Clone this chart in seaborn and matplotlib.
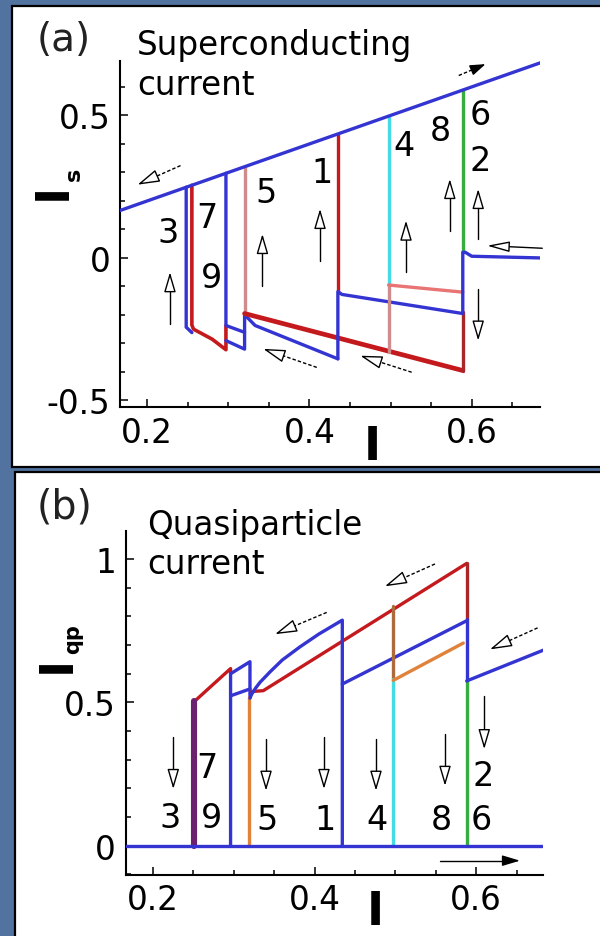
import numpy as np
import matplotlib
matplotlib.use("Agg")
import matplotlib.pyplot as plt
from matplotlib.patches import Rectangle
from matplotlib.ticker import MultipleLocator
import seaborn as sns

# ---------------------------------------------------------------- colours
BLUE = "#3434d2"
RED = "#c41a1e"
MAROON = "#a8282a"
ROSE = "#cf8c8c"
SALMON = "#e87474"
CYAN = "#44dbe3"
GREEN = "#36ad3e"
ORANGE = "#e0823a"
BROWN = "#ad6a3c"
PURPLE = "#6e2070"
SLIDE = "#52739f"

# ---------------------------------------------------------------- (a) superconducting current  Is(I)
sc_I = [0.166, 0.685]
sc_Is = [0.166, 0.685]

a3_I = [0.248, 0.248, 0.255]
a3_Is = [0.248, -0.243, -0.262]

a7_I = [0.255, 0.255, 0.257, 0.265, 0.280, 0.297, 0.297]
a7_Is = [0.255, -0.235, -0.250, -0.262, -0.285, -0.322, -0.237]

a9_I = [0.297, 0.297, 0.320]
a9_Is = [0.297, -0.237, -0.261]

a9low_I = [0.297, 0.320, 0.320, 0.322, 0.333, 0.435]
a9low_Is = [-0.290, -0.320, -0.196, -0.205, -0.237, -0.354]

a5_I = [0.320, 0.320]
a5_Is = [0.320, -0.196]

ared_I = [0.320, 0.589]
ared_Is = [-0.195, -0.395]

a1_I = [0.435, 0.435]
a1_Is = [0.435, -0.120]

a1blue_I = [0.435, 0.435, 0.440, 0.589]
a1blue_Is = [-0.354, -0.118, -0.128, -0.195]

a4_I = [0.4975, 0.4975]
a4_Is = [0.4975, -0.095]

a4rose_I = [0.4975, 0.4975]
a4rose_Is = [-0.329, -0.095]

a4salmon_I = [0.4975, 0.589]
a4salmon_Is = [-0.095, -0.120]

a6_I = [0.589, 0.589]
a6_Is = [0.589, 0.020]

a6blue_I = [0.589, 0.589, 0.592, 0.600, 0.685]
a6blue_Is = [-0.195, 0.020, 0.020, 0.006, 0.000]

a8_I = [0.589, 0.589]
a8_Is = [-0.395, -0.190]

a_num = ["3", "7", "9", "5", "1", "4", "8", "6", "2"]
a_num_I = [0.226, 0.273, 0.2795, 0.347, 0.415, 0.516, 0.561, 0.611, 0.611]
a_num_Is = [0.090, 0.143, -0.068, 0.230, 0.300, 0.394, 0.447, 0.505, 0.341]

# ---------------------------------------------------------------- (b) quasiparticle current  Iqp(I)
zero_I = [0.166, 0.685]
zero_Iqp = [0.0, 0.0]

b37_I = [0.251, 0.251]
b37_Iqp = [0.0, 0.505]

b7red_I = [0.253, 0.296, 0.296]
b7red_Iqp = [0.508, 0.618, 0.600]

b9_I = [0.296, 0.296, 0.320, 0.320]
b9_Iqp = [0.0, 0.600, 0.642, 0.515]

b9low_I = [0.296, 0.320]
b9low_Iqp = [0.523, 0.547]

b5_I = [0.319, 0.319]
b5_Iqp = [0.0, 0.520]

b5blue_I = [0.320, 0.3222, 0.3270, 0.3324, 0.345, 0.360, 0.382, 0.405, 0.4343, 0.4343]
b5blue_Iqp = [0.515, 0.529, 0.550, 0.570, 0.607, 0.648, 0.694, 0.738, 0.787, 0.0]

bred_I = [0.3225, 0.3365, 0.5883]
bred_Iqp = [0.538, 0.541, 0.985]

b1_I = [0.4343, 0.437, 0.5883]
b1_Iqp = [0.564, 0.568, 0.785]

b4brown_I = [0.4974, 0.4974]
b4brown_Iqp = [0.838, 0.580]

b4_I = [0.4974, 0.4974]
b4_Iqp = [0.580, 0.0]

b4orange_I = [0.4974, 0.584]
b4orange_Iqp = [0.577, 0.707]

b8_I = [0.5883, 0.5883]
b8_Iqp = [0.985, 0.790]

b8blue_I = [0.5883, 0.5883]
b8blue_Iqp = [0.790, 0.575]

b6_I = [0.5883, 0.5883]
b6_Iqp = [0.575, 0.0]

b6blue_I = [0.5883, 0.591, 0.6855]
b6blue_Iqp = [0.575, 0.578, 0.685]

b_num = ["3", "9", "5", "1", "4", "8", "6", "7", "2"]
b_num_I = [0.221, 0.2726, 0.3407, 0.4129, 0.4769, 0.5573, 0.6068, 0.2665, 0.6089]
b_num_Iqp = [0.099, 0.099, 0.093, 0.093, 0.093, 0.093, 0.093, 0.273, 0.244]

# ---------------------------------------------------------------- sweep-direction arrows
a_up_I = [0.228, 0.342, 0.413, 0.519, 0.573, 0.608]
a_up_from = [-0.232, -0.097, -0.010, -0.050, 0.096, 0.067]
a_up_to = [-0.050, 0.084, 0.172, 0.131, 0.277, 0.242]
a_down = [(0.608, -0.109), (0.608, -0.290)]
a_back = [((0.241, 0.324), (0.188, 0.257)),
          ((0.409, -0.384), (0.343, -0.319)),
          ((0.526, -0.401), (0.4626, -0.343))]
a_fwd = ((0.584, 0.640), (0.617, 0.680))
a_left = ((0.687, 0.034), (0.619, 0.043))

b_down_I = [0.2251, 0.3399, 0.4116, 0.476, 0.5614, 0.610]
b_down_from = [0.378, 0.372, 0.378, 0.372, 0.390, 0.523]
b_down_to = [0.198, 0.192, 0.198, 0.192, 0.209, 0.337]
b_back = [((0.415, 0.814), (0.351, 0.738)),
          ((0.549, 0.983), (0.487, 0.905)),
          ((0.676, 0.760), (0.617, 0.685))]
b_fwd = ((0.5552, -0.052), (0.6542, -0.052))

# ---------------------------------------------------------------- style
sns.set_theme(style="ticks")
plt.rcParams["font.family"] = ["DejaVu Sans"]
plt.rcParams["axes.unicode_minus"] = False
plt.rcParams["text.color"] = "black"

W, H = 600, 937
fig = plt.figure(figsize=(W / 100, H / 100), dpi=100, facecolor=SLIDE)


def fx(px):
    return px / W


def fy(py):
    return 1 - py / H


# white framed panels on the slide
fig.add_artist(Rectangle((fx(12), fy(468)), (605 - 12) / W, (468 - 7) / H,
                         transform=fig.transFigure, fc="white", ec="black",
                         lw=1.6, zorder=-5))
fig.add_artist(Rectangle((fx(15), fy(945)), (605 - 15) / W, (945 - 473) / H,
                         transform=fig.transFigure, fc="white", ec="black",
                         lw=1.6, zorder=-5))

ax_a = fig.add_axes([fx(120), fy(408.3), (540 - 120) / W, (408.3 - 61.7) / H])
ax_b = fig.add_axes([fx(125.7), fy(876), (543.4 - 125.7) / W, (876 - 531.7) / H])


def frame(ax, xlim, ylim, yt, ytl):
    ax.set_facecolor("none")
    ax.set_xlim(*xlim)
    ax.set_ylim(*ylim)
    for s in ("top", "right"):
        ax.spines[s].set_visible(False)
    for s in ("left", "bottom"):
        ax.spines[s].set_linewidth(1.5)
        ax.spines[s].set_color("black")
    ax.set_xticks([0.2, 0.4, 0.6], ["0.2", "0.4", "0.6"])
    ax.set_yticks(yt, ytl)
    ax.xaxis.set_minor_locator(MultipleLocator(0.05))
    ax.yaxis.set_minor_locator(MultipleLocator(0.1))
    ax.tick_params(which="both", direction="in", width=1.1, color="black",
                   labelsize=23.5, labelcolor="black")
    ax.tick_params(which="major", length=5.8)
    ax.tick_params(which="minor", length=3.6)
    ax.tick_params(axis="x", pad=6)
    ax.tick_params(axis="y", pad=7)
    ax.set_xlabel("")
    ax.set_ylabel("")


frame(ax_a, (0.1664, 0.6842), (-0.524, 0.692), [-0.5, 0, 0.5], ["-0.5", "0", "0.5"])
frame(ax_b, (0.1662, 0.6832), (-0.102, 1.099), [0, 0.5, 1], ["0", "0.5", "1"])


def trace(ax, I, J, color, lw=2.4, z=2):
    sns.lineplot(x=I, y=J, ax=ax, sort=False, estimator=None, color=color,
                 linewidth=lw, zorder=z, legend=False)


# panel (a)
trace(ax_a, a7_I, a7_Is, RED, 2.6)
trace(ax_a, a3_I, a3_Is, BLUE)
trace(ax_a, a9_I, a9_Is, BLUE)
trace(ax_a, a9low_I, a9low_Is, BLUE)
trace(ax_a, a5_I, a5_Is, ROSE)
trace(ax_a, ared_I, ared_Is, RED, 3.4)
trace(ax_a, a1_I, a1_Is, RED)
trace(ax_a, a1blue_I, a1blue_Is, BLUE)
trace(ax_a, a4_I, a4_Is, CYAN)
trace(ax_a, a4rose_I, a4rose_Is, ROSE)
trace(ax_a, a4salmon_I, a4salmon_Is, SALMON)
trace(ax_a, a8_I, a8_Is, MAROON)
trace(ax_a, a6_I, a6_Is, GREEN)
trace(ax_a, a6blue_I, a6blue_Is, BLUE)
trace(ax_a, sc_I, sc_Is, BLUE, 2.4, 3)

# panel (b)
trace(ax_b, b7red_I, b7red_Iqp, RED)
trace(ax_b, b9_I, b9_Iqp, BLUE)
trace(ax_b, b9low_I, b9low_Iqp, BLUE)
trace(ax_b, b5_I, b5_Iqp, ORANGE)
trace(ax_b, bred_I, bred_Iqp, RED)
trace(ax_b, b5blue_I, b5blue_Iqp, BLUE)
trace(ax_b, b1_I, b1_Iqp, BLUE)
trace(ax_b, b4brown_I, b4brown_Iqp, BROWN)
trace(ax_b, b4_I, b4_Iqp, CYAN)
trace(ax_b, b4orange_I, b4orange_Iqp, ORANGE)
trace(ax_b, b8_I, b8_Iqp, MAROON)
trace(ax_b, b8blue_I, b8blue_Iqp, BLUE)
trace(ax_b, b6_I, b6_Iqp, GREEN)
trace(ax_b, b6blue_I, b6blue_Iqp, BLUE)
trace(ax_b, b37_I, b37_Iqp, PURPLE, 4.4)
trace(ax_b, zero_I, zero_Iqp, BLUE, 2.4, 3)

for t, x, y in zip(a_num, a_num_I, a_num_Is):
    ax_a.text(x, y, t, fontsize=24, ha="center", va="center", color="black")
for t, x, y in zip(b_num, b_num_I, b_num_Iqp):
    ax_b.text(x, y, t, fontsize=24, ha="center", va="center", color="black")


def arrow(ax, tail, head, dashed=False, filled=False, hl=17.0, hw=5.0):
    """Thin stem plus a narrow triangular head (hollow unless filled)."""
    T = ax.transData
    p0 = np.asarray(T.transform(tail))
    p1 = np.asarray(T.transform(head))
    u = (p1 - p0) / np.hypot(*(p1 - p0))
    base = T.inverted().transform(p1 - u * hl)
    ax.plot([tail[0], base[0]], [tail[1], base[1]], color="black", lw=1.0,
            ls=(0, (2.5, 1.5)) if dashed else "-", zorder=4, clip_on=False)
    ms = 10
    ax.annotate("", xy=head, xytext=base,
                arrowprops=dict(arrowstyle=f"-|>,head_length={hl * 0.72 / ms:.3f},"
                                           f"head_width={hw * 0.72 / ms:.3f}",
                                fc="black" if filled else "white", ec="black",
                                lw=1.0, shrinkA=0, shrinkB=0, mutation_scale=ms),
                zorder=5, annotation_clip=False)


for x, y0, y1 in zip(a_up_I, a_up_from, a_up_to):
    arrow(ax_a, (x, y0), (x, y1))
arrow(ax_a, *a_down)
for tail, head in a_back:
    arrow(ax_a, tail, head, dashed=True, hl=19, hw=5.5)
arrow(ax_a, *a_fwd, dashed=True, filled=True, hl=13, hw=4.5)
arrow(ax_a, *a_left, hl=19, hw=4.5)

for x, y0, y1 in zip(b_down_I, b_down_from, b_down_to):
    arrow(ax_b, (x, y0), (x, y1))
for tail, head in b_back:
    arrow(ax_b, tail, head, dashed=True, hl=19, hw=5.5)
arrow(ax_b, *b_fwd, filled=True, hl=15, hw=4.5)

# panel tags, titles and axis symbols
fig.text(fx(37), fy(51), "(a)", fontsize=28, color="#222222", va="baseline")
fig.text(fx(37), fy(519), "(b)", fontsize=28.5, color="#222222", va="baseline")
fig.text(fx(137), fy(55), "Superconducting", fontsize=23.5, va="baseline")
fig.text(fx(137), fy(95), "current", fontsize=23.5, va="baseline")
fig.text(fx(147), fy(535), "Quasiparticle", fontsize=23.5, va="baseline")
fig.text(fx(147), fy(574), "current", fontsize=23.5, va="baseline")

fig.text(fx(372), fy(460), "I", fontsize=33, fontweight="bold", ha="center", va="baseline")
fig.text(fx(375), fy(925), "I", fontsize=33, fontweight="bold", ha="center", va="baseline")

fig.text(fx(66), fy(199.6), "I", fontsize=33, fontweight="bold", rotation=90,
         rotation_mode="anchor", ha="left", va="baseline")
fig.text(fx(80), fy(181.5), "s", fontsize=16, fontweight="bold", rotation=90,
         rotation_mode="anchor", ha="left", va="baseline")
fig.text(fx(70), fy(672.6), "I", fontsize=33, fontweight="bold", rotation=90,
         rotation_mode="anchor", ha="left", va="baseline")
fig.text(fx(79), fy(654.5), "qp", fontsize=15, fontweight="bold", rotation=90,
         rotation_mode="anchor", ha="left", va="baseline")

fig.savefig("out.png", dpi=100, facecolor=SLIDE)
